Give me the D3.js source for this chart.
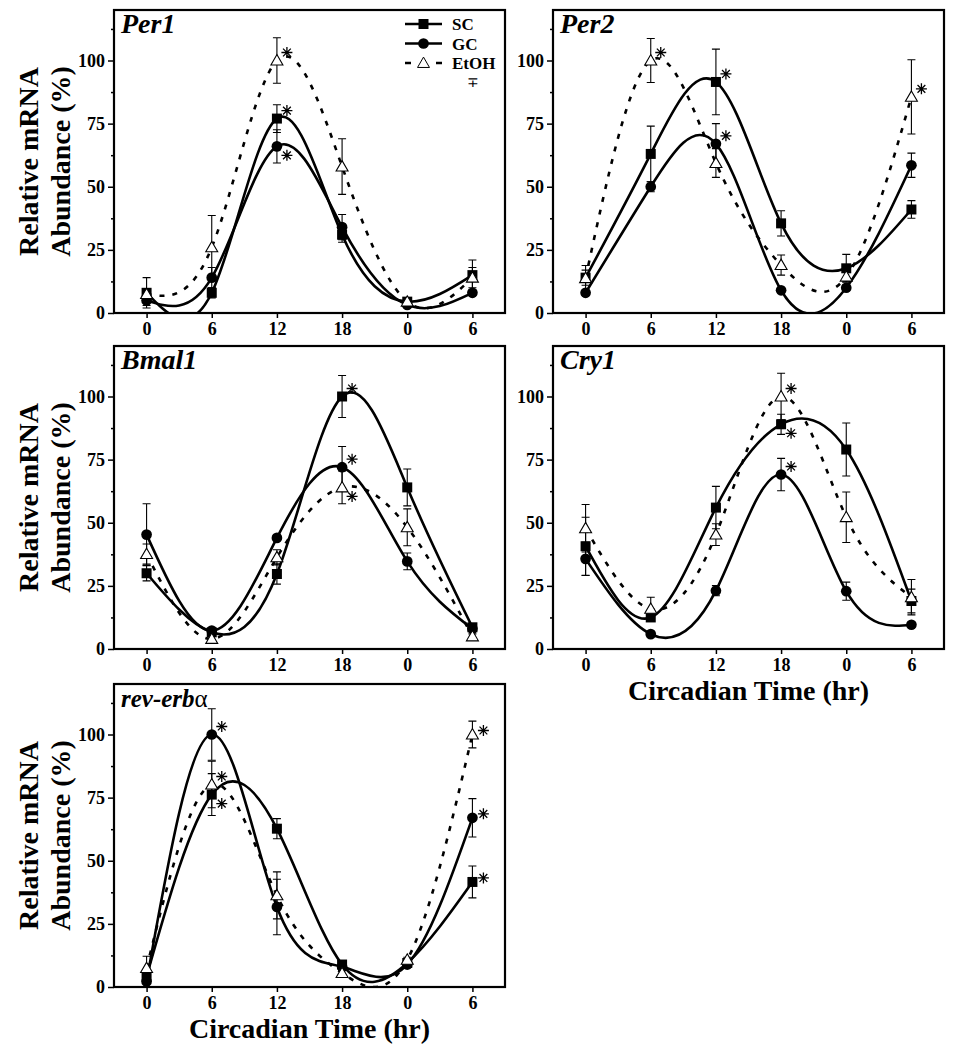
<!DOCTYPE html>
<html><head><meta charset="utf-8">
<script src="https://cdn.jsdelivr.net/npm/d3@7"></script>
<style>body{margin:0;background:#fff}</style>
</head><body><svg id="c" width="960" height="1050"></svg>
<script>
// ---------- data ----------
const hours = [0, 6, 12, 18, 24, 30];
const hourLabels = ["0", "6", "12", "18", "0", "6"];
const yMajorTicks = [0, 25, 50, 75, 100];
const yMinorTicks = [12.5, 37.5, 62.5, 87.5, 112.5];
const seriesNames = ["SC", "GC", "EtOH"];
const genes = ["Per1", "Per2", "Bmal1", "Cry1", "rev-erbα"];

// Per1
const per1SC = [8, 8, 77, 31, 4.5, 15];
const per1SCerr = [6, 2, 5.5, 3, 1, 6];
const per1GC = [5, 14, 66, 34, 3.2, 8];
const per1GCerr = [2, 4, 6.6, 5, 1, 1];
const per1EtOH = [7.5, 26, 100, 58, 4.5, 14];
const per1EtOHerr = [2, 12.6, 9, 11, 1, 4];
const per1Sig = [["", "", "u", "", "", ""], ["", "", "d", "", "", ""], ["", "", "u", "", "", ""]];

// Per2
const per2SC = [14, 63, 91.5, 35.5, 17.7, 41];
const per2SCerr = [3, 11, 13, 5, 5.5, 3.5];
const per2GC = [8, 50, 67, 9, 10, 58.5];
const per2GCerr = [1, 2, 8, 1, 1, 4.8];
const per2EtOH = [13.8, 100, 59.4, 19, 14.4, 85.6];
const per2EtOHerr = [5, 8.7, 5.7, 4, 2, 14.7];
const per2Sig = [["", "", "u", "", "", ""], ["", "", "u", "", "", ""], ["", "u", "", "", "", "u"]];

// Bmal1
const bmal1SC = [30, 6.6, 29.7, 100, 64, 8.6];
const bmal1SCerr = [3, 1, 4, 8.3, 7.3, 1];
const bmal1GC = [45.3, 7.3, 44, 72, 34.7, 8];
const bmal1GCerr = [12.2, 1, 1, 8.2, 3.3, 1];
const bmal1EtOH = [37.6, 4, 36.3, 64, 48.2, 5];
const bmal1EtOHerr = [4, 1, 3, 6.5, 7.3, 1];
const bmal1Sig = [["", "", "", "u", "", ""], ["", "", "", "u", "", ""], ["", "", "", "d", "", ""]];

// Cry1
const cry1SC = [40.7, 12.5, 56, 89, 79, 19];
const cry1SCerr = [11.5, 1, 8.4, 4, 10.5, 4.7];
const cry1GC = [35.7, 5.9, 23.1, 69.1, 22.9, 9.6];
const cry1GCerr = [6.6, 1, 2, 6.4, 3.6, 1];
const cry1EtOH = [47.8, 15.9, 45.3, 100, 52.2, 20.5];
const cry1EtOHerr = [9.4, 4.6, 4.3, 9.2, 10, 7];
const cry1Sig = [["", "", "", "d", "", ""], ["", "", "", "u", "", ""], ["", "", "", "u", "", ""]];

// rev-erbα
const revSC = [4.2, 76.2, 62.7, 8.9, 9.5, 41.6];
const revSCerr = [1, 8.3, 4, 1, 1, 6.3];
const revGC = [2.2, 100, 31.7, 8, 8.9, 67];
const revGCerr = [1, 10.2, 11, 1, 1, 7.6];
const revEtOH = [7.5, 80.2, 36.3, 5.5, 10.8, 100];
const revEtOHerr = [4.7, 9.2, 9.3, 1, 1, 5.3];
const revSig = [["", "d", "", "", "", "r"], ["", "u", "", "", "", "r"], ["", "u", "", "", "", "r"]];

const panelData = [
  {gene: genes[0], vals: [per1SC, per1GC, per1EtOH], errs: [per1SCerr, per1GCerr, per1EtOHerr], sig: per1Sig},
  {gene: genes[1], vals: [per2SC, per2GC, per2EtOH], errs: [per2SCerr, per2GCerr, per2EtOHerr], sig: per2Sig},
  {gene: genes[2], vals: [bmal1SC, bmal1GC, bmal1EtOH], errs: [bmal1SCerr, bmal1GCerr, bmal1EtOHerr], sig: bmal1Sig},
  {gene: genes[3], vals: [cry1SC, cry1GC, cry1EtOH], errs: [cry1SCerr, cry1GCerr, cry1EtOHerr], sig: cry1Sig},
  {gene: genes[4], vals: [revSC, revGC, revEtOH], errs: [revSCerr, revGCerr, revEtOHerr], sig: revSig}
];

// ---------- layout ----------
const FONT = "'Liberation Serif','Times New Roman',serif";
const colX = [114, 553];
const rowY = [10, 346, 684];
const PW = 391, PH = 303;
const layout = [
  {c: 0, r: 0, ylab: true, xtitle: false, legend: true},
  {c: 1, r: 0, ylab: false, xtitle: false, legend: false},
  {c: 0, r: 1, ylab: true, xtitle: false, legend: false},
  {c: 1, r: 1, ylab: false, xtitle: true, legend: false},
  {c: 0, r: 2, ylab: true, xtitle: true, legend: false}
];

const svg = d3.select("#c");
svg.append("rect").attr("width", 960).attr("height", 1050).attr("fill", "#fff");
const defs = svg.append("defs");

const symSC = d3.symbol().type(d3.symbolSquare).size(100)();
const symGC = d3.symbol().type(d3.symbolCircle).size(90)();
const symEt = d3.symbol().type(d3.symbolTriangle).size(62)();
const markers = [symSC, symGC, symEt];

function asterisk(g, x, y) {
  const r = 5.5;
  let p = "";
  for (let k = 0; k < 4; k++) {
    const a = k * Math.PI / 4;
    p += `M${x - r * Math.cos(a)},${y - r * Math.sin(a)}L${x + r * Math.cos(a)},${y + r * Math.sin(a)}`;
  }
  g.append("path").attr("d", p).attr("stroke", "#000").attr("stroke-width", 1.3).attr("fill", "none");
}
const sigOff = {u: [10, -8], d: [10, 9], r: [11, -4]};

panelData.forEach((pd, i) => {
  const L = layout[i];
  const x0 = colX[L.c], y0 = rowY[L.r];
  const x = d3.scaleLinear().domain([-3, 33]).range([x0, x0 + PW]);
  const y = d3.scaleLinear().domain([0, 120]).range([y0 + PH, y0]);
  const g = svg.append("g");

  defs.append("clipPath").attr("id", "clip" + i)
    .append("rect").attr("x", x0).attr("y", y0).attr("width", PW).attr("height", PH);

  // axes
  const yAx = g.append("g").attr("transform", `translate(${x0},0)`)
    .call(d3.axisLeft(y).tickValues(yMajorTicks).tickSize(6).tickPadding(3));
  g.append("g").attr("transform", `translate(${x0},0)`)
    .call(d3.axisLeft(y).tickValues(yMinorTicks).tickSize(3).tickFormat(""))
    .call(s => s.select(".domain").remove());
  const xAx = g.append("g").attr("transform", `translate(0,${y0 + PH})`)
    .call(d3.axisBottom(x).tickValues(hours).tickSize(5).tickPadding(4).tickFormat((d, k) => hourLabels[k]));
  [yAx, xAx].forEach(a => {
    a.select(".domain").remove();
    a.selectAll("text").attr("font-family", FONT).attr("font-weight", "bold").attr("font-size", 18).attr("fill", "#000");
  });
  g.selectAll("g.tick line").attr("stroke", "#000").attr("stroke-width", 1.5);

  // curves
  const line = d3.line().x(d => x(d[0])).y(d => y(d[1])).curve(d3.curveNatural);
  const cg = g.append("g").attr("clip-path", `url(#clip${i})`);
  pd.vals.forEach((v, s) => {
    cg.append("path").datum(hours.map((h, k) => [h, v[k]]))
      .attr("d", line).attr("fill", "none").attr("stroke", "#000")
      .attr("stroke-width", 2.6)
      .attr("stroke-dasharray", s === 2 ? "5,8" : null);
  });

  // frame
  g.append("rect").attr("x", x0).attr("y", y0).attr("width", PW).attr("height", PH)
    .attr("fill", "none").attr("stroke", "#000").attr("stroke-width", 2.2);

  // error bars
  pd.vals.forEach((v, s) => {
    const e = pd.errs[s];
    hours.forEach((h, k) => {
      const cx = x(h), t = y(v[k] + e[k]), b = y(v[k] - e[k]);
      g.append("path").attr("d", `M${cx},${t}L${cx},${b}M${cx - 4},${t}L${cx + 4},${t}M${cx - 4},${b}L${cx + 4},${b}`)
        .attr("stroke", "#000").attr("stroke-width", 1.1).attr("fill", "none");
    });
  });
  // markers
  pd.vals.forEach((v, s) => {
    hours.forEach((h, k) => {
      g.append("path").attr("d", markers[s])
        .attr("transform", `translate(${x(h)},${y(v[k]) + (s === 2 ? 1 : 0)})`)
        .attr("fill", s === 2 ? "#fff" : "#000").attr("stroke", "#000").attr("stroke-width", s === 2 ? 1.1 : 0);
    });
  });
  // significance
  pd.sig.forEach((row, s) => {
    row.forEach((m, k) => {
      if (!m) return;
      const o = sigOff[m];
      asterisk(g, x(hours[k]) + o[0], y(pd.vals[s][k]) + o[1]);
    });
  });

  // title
  const t = g.append("text").attr("x", x0 + 7).attr("y", y0 + 23)
    .attr("font-family", FONT).attr("font-size", 28).attr("font-weight", "bold").attr("font-style", "italic");
  if (pd.gene === "rev-erbα") {
    t.attr("font-size", 25);
    t.append("tspan").text("rev-erb");
    t.append("tspan").attr("font-weight", "normal").attr("font-style", "normal").text("α");
  } else {
    t.text(pd.gene);
  }

  // y label
  if (L.ylab) {
    const cy = y0 + PH / 2;
    [["Relative mRNA", 38], ["Abundance (%)", 70]].forEach(([txt, bx]) => {
      g.append("text").attr("transform", `translate(${bx},${cy}) rotate(-90)`)
        .attr("text-anchor", "middle").attr("font-family", FONT).attr("font-weight", "bold")
        .attr("font-size", 28).text(txt);
    });
  }
  // x title
  if (L.xtitle) {
    g.append("text").attr("x", x0 + PW / 2).attr("y", y0 + PH + 51)
      .attr("text-anchor", "middle").attr("font-family", FONT).attr("font-weight", "bold")
      .attr("font-size", 28).text("Circadian Time (hr)");
  }
  // legend
  if (L.legend) {
    const lg = g.append("g");
    seriesNames.forEach((nm, s) => {
      const ly = 24 + s * 19.5;
      lg.append("line").attr("x1", 405).attr("x2", 442).attr("y1", ly).attr("y2", ly)
        .attr("stroke", "#000").attr("stroke-width", 2.4)
        .attr("stroke-dasharray", s === 2 ? "6,25" : null);
      lg.append("path").attr("d", markers[s]).attr("transform", `translate(423.5,${ly + (s === 2 ? 1 : 0)})`)
        .attr("fill", s === 2 ? "#fff" : "#000").attr("stroke", "#000").attr("stroke-width", s === 2 ? 1 : 0);
      lg.append("text").attr("x", 452).attr("y", ly + 6).attr("font-family", FONT)
        .attr("font-weight", "bold").attr("font-size", 17).text(nm);
    });
    lg.append("text").attr("x", 473).attr("y", 87).attr("text-anchor", "middle")
      .attr("font-family", FONT).attr("font-size", 14).text("∓");
  }
});
</script></body></html>
